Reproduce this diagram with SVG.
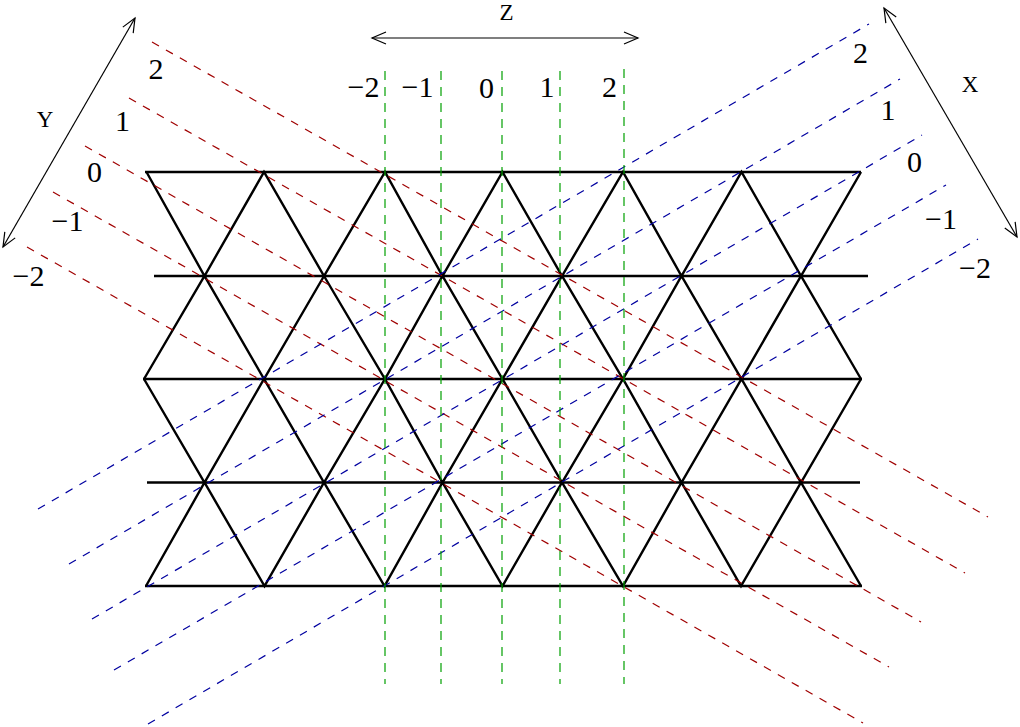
<svg xmlns="http://www.w3.org/2000/svg" width="1020" height="727" viewBox="0 0 1020 727">
  <style>
    .grid { fill: none; stroke: #000; stroke-width: 2.4; stroke-linejoin: miter; stroke-miterlimit: 3; }
    .red { stroke: #a00000; stroke-width: 1.2; stroke-dasharray: 8 8; fill: none; }
    .blue { stroke: #0000a0; stroke-width: 1.2; stroke-dasharray: 8 8; fill: none; }
    .green { stroke: #00a000; stroke-width: 1.2; stroke-dasharray: 9 7; fill: none; }
    .axis { stroke: #000; stroke-width: 1.2; fill: none; marker-start: url(#ah); marker-end: url(#ah); }
    .num { font-family: "Liberation Serif", "Times New Roman", serif; font-size: 30px; fill: #000; text-anchor: middle; }
    .lab { font-family: "Liberation Serif", "Times New Roman", serif; font-size: 23px; fill: #000; text-anchor: middle; }
  </style>
  <defs>
    <marker id="ah" markerUnits="userSpaceOnUse" viewBox="-16 -8 18 16" refX="0" refY="0" markerWidth="18" markerHeight="16" orient="auto-start-reverse" overflow="visible">
      <path d="M -14 -6 L 0 0 L -14 6" fill="none" stroke="#000" stroke-width="1.2"/>
    </marker>
  </defs>
  <rect width="1020" height="727" fill="#fff"/>

  <g id="lattice">
    <g id="rows">
      <line class="grid" x1="145" y1="172" x2="861" y2="172"/>
      <line class="grid" x1="154" y1="276" x2="868" y2="276"/>
      <line class="grid" x1="143" y1="379" x2="862" y2="379"/>
      <line class="grid" x1="147" y1="482.5" x2="860" y2="482.5"/>
      <line class="grid" x1="145" y1="586" x2="862" y2="586"/>
    </g>
    <g id="zigzags">
      <polyline class="grid" points="146.5,172 204.5,276 264,172 324,276 385,172 442.5,276 502.5,172 562,276 623,172 681.5,276 741.5,172 801,276 861,172"/>
      <polyline class="grid" points="144,379 204.5,276 264,379 324,276 385,379 442.5,276 502.5,379 562,276 623,379 681.5,276 741.5,379 801,276 861,379"/>
      <polyline class="grid" points="144,379 204.5,482.5 264,379 324,482.5 385,379 442.5,482.5 502.5,379 562,482.5 623,379 681.5,482.5 741.5,379 801,482.5 861,379"/>
      <polyline class="grid" points="146,586 204.5,482.5 264.5,586 324,482.5 384.5,586 442.5,482.5 502.5,586 562,482.5 623,586 681.5,482.5 741,586 801,482.5 861,586"/>
    </g>
  </g>

  <g id="connectors">
    <g id="y-lines">
      <line class="red" x1="152" y1="42" x2="988" y2="517"/>
      <line class="red" x1="129" y1="98" x2="965" y2="573"/>
      <line class="red" x1="85" y1="146" x2="921" y2="622"/>
      <line class="red" x1="53" y1="192" x2="889" y2="667"/>
      <line class="red" x1="27" y1="247" x2="863" y2="723"/>
    </g>
    <g id="x-lines">
      <line class="blue" x1="38" y1="509" x2="869" y2="24"/>
      <line class="blue" x1="69" y1="564" x2="900" y2="79"/>
      <line class="blue" x1="92" y1="619" x2="922" y2="135"/>
      <line class="blue" x1="114" y1="670" x2="946" y2="185"/>
      <line class="blue" x1="148" y1="724" x2="978" y2="239"/>
    </g>
    <g id="z-lines">
      <line class="green" x1="385" y1="71" x2="385" y2="684"/>
      <line class="green" x1="441" y1="71" x2="441" y2="684"/>
      <line class="green" x1="502" y1="71" x2="502" y2="684"/>
      <line class="green" x1="560" y1="71" x2="560" y2="684"/>
      <line class="green" x1="624" y1="69" x2="624" y2="684"/>
    </g>
    <g id="axes">
      <line id="axis-z" class="axis" x1="372" y1="38" x2="638" y2="38"/>
      <line id="axis-y" class="axis" x1="135" y1="18" x2="3" y2="247"/>
      <line id="axis-x" class="axis" x1="884" y1="8" x2="1017" y2="237"/>
    </g>
  </g>

  <g id="labels-z">
    <text class="lab" x="506.5" y="20">Z</text>
    <text class="num" x="363.5" y="97">−2</text>
    <text class="num" x="417.5" y="97">−1</text>
    <text class="num" x="486.5" y="98">0</text>
    <text class="num" x="547" y="97">1</text>
    <text class="num" x="609.5" y="97">2</text>
  </g>
  <g id="labels-y">
    <text class="lab" x="45" y="127">Y</text>
    <text class="num" x="156" y="79">2</text>
    <text class="num" x="122.5" y="131">1</text>
    <text class="num" x="94.5" y="182">0</text>
    <text class="num" x="67.5" y="231">−1</text>
    <text class="num" x="28.5" y="286">−2</text>
  </g>
  <g id="labels-x">
    <text class="lab" x="970" y="92">X</text>
    <text class="num" x="860.5" y="63">2</text>
    <text class="num" x="888" y="120">1</text>
    <text class="num" x="914.5" y="172">0</text>
    <text class="num" x="941" y="229">−1</text>
    <text class="num" x="975" y="278">−2</text>
  </g>
</svg>
